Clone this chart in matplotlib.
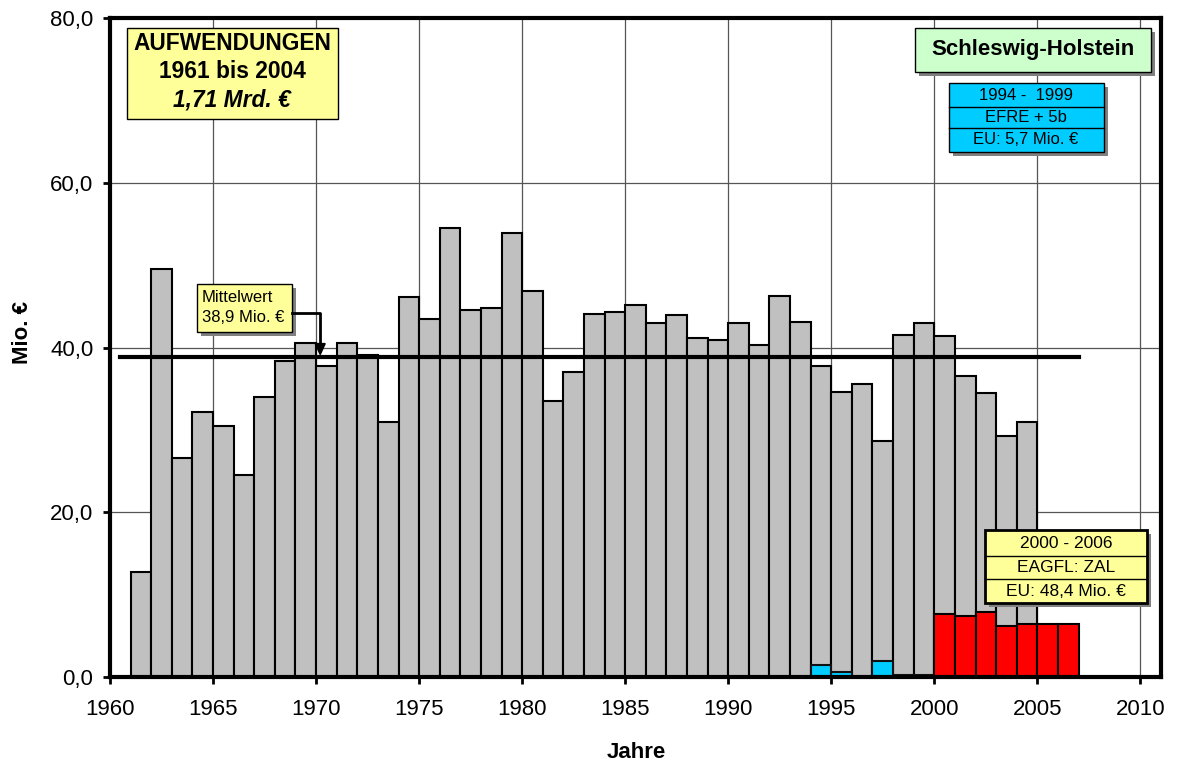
import matplotlib
matplotlib.use("Agg")
import matplotlib.pyplot as plt
from matplotlib.patches import Rectangle, Polygon

plt.rcParams['font.family'] = ['Liberation Sans', 'DejaVu Sans']

# Annual expenditure (Mio. €), 1961-2004
years = list(range(1961, 2005))
total = [12.8, 49.5, 26.6, 32.2, 30.5, 24.5, 34.0, 38.4, 40.5, 37.7,
         40.6, 39.1, 30.9, 46.1, 43.4, 54.5, 44.5, 44.8, 53.9, 46.9,
         33.5, 37.0, 44.1, 44.3, 45.1, 43.0, 43.9, 41.2, 40.9, 43.0,
         40.3, 46.3, 43.1, 37.7, 34.6, 35.6, 28.6, 41.5, 43.0, 41.4,
         36.6, 34.5, 29.2, 30.9]

# EU share 1994-1999 (EFRE + 5b)
efre_years = [1994, 1995, 1996, 1997, 1998, 1999]
efre = [1.4, 0.6, 0.0, 1.9, 0.2, 0.2]

# EU share 2000-2006 (EAGFL: ZAL)
eagfl_years = [2000, 2001, 2002, 2003, 2004, 2005, 2006]
eagfl = [7.7, 7.35, 7.85, 6.2, 6.45, 6.45, 6.4]

mean_value = 38.9
x_ticks = list(range(1960, 2011, 5))
y_ticks = [0, 20, 40, 60, 80]

W, H = 1183, 762
fig = plt.figure(figsize=(W / 100, H / 100), dpi=100)
fig.patch.set_facecolor('white')

left, right, top, bottom = 110, 1161, 18, 677
ax = fig.add_axes([left / W, 1 - bottom / H, (right - left) / W, (bottom - top) / H])
ax.set_xlim(1960, 2011)
ax.set_ylim(0, 80)

ax.set_axisbelow(True)
for xv in x_ticks[1:]:
    ax.axvline(xv, color='#555555', lw=0.9, zorder=1)
for yv in y_ticks[1:-1]:
    ax.axhline(yv, color='#555555', lw=0.9, zorder=1)

ax.bar(years, total, width=1, align='edge', color='#C0C0C0',
       edgecolor='black', linewidth=1.5, zorder=2)
ax.bar(efre_years, efre, width=1, align='edge', color='#00CCFF',
       edgecolor='#111111', linewidth=1.5, zorder=3)
ax.bar(eagfl_years, eagfl, width=1, align='edge', color='#FF0000',
       edgecolor='black', linewidth=1.5, zorder=3)

ax.plot([1960.5, 2007], [mean_value, mean_value], color='black', lw=3, zorder=4)

ax.set_xticks(x_ticks)
ax.set_xticklabels([str(v) for v in x_ticks])
ax.set_yticks(y_ticks)
ax.set_yticklabels([f"{v:.1f}".replace('.', ',') for v in y_ticks])
ax.tick_params(direction='out', length=5, width=2, labelsize=16)
ax.tick_params(axis='x', pad=11)
ax.tick_params(axis='y', pad=7)
for s in ax.spines.values():
    s.set_linewidth(3)
    s.set_zorder(6)

fig.text(636 / W, 1 - 752 / H, 'Jahre', ha='center', va='center',
         fontsize=16, fontweight='bold')
fig.text(22 / W, 1 - 333 / H, 'Mio. €', ha='center', va='center',
         rotation=90, fontsize=16, fontweight='bold')

# Overlay in pixel coordinates (origin top-left) for annotation boxes
ov = fig.add_axes([0, 0, 1, 1], zorder=10)
ov.set_xlim(0, W)
ov.set_ylim(H, 0)
ov.axis('off')


def box(x0, y0, x1, y1, fc, lw=1.0, shadow=True):
    if shadow:
        ov.add_patch(Rectangle((x0 + 4, y0 + 4), x1 - x0, y1 - y0,
                               fc='#808080', ec='none', zorder=1))
    ov.add_patch(Rectangle((x0, y0), x1 - x0, y1 - y0, fc=fc,
                           ec='black', lw=lw, zorder=2))


# Title box
box(127, 28, 338, 119, '#FFFF99', shadow=False)
ov.text(232, 43, 'AUFWENDUNGEN', ha='center', va='center', fontsize=16.4,
        fontweight='bold', zorder=3)
ov.text(232, 72, '1961 bis 2004', ha='center', va='center', fontsize=16.4,
        fontweight='bold', zorder=3)
ov.text(232, 100, '1,71 Mrd. €', ha='center', va='center', fontsize=16.4,
        fontweight='bold', style='italic', zorder=3)

# Region box
box(915, 28, 1151, 72, '#CCFFCC')
ov.text(1033, 50, 'Schleswig-Holstein', ha='center', va='center',
        fontsize=16, fontweight='bold', zorder=3)

# EFRE period table
box(949, 83, 1104, 152, '#00CCFF')
for yy in (107, 128):
    ov.plot([949, 1104], [yy, yy], color='black', lw=1, zorder=3)
for yy, t in zip((96, 118, 140), ('1994 -  1999', 'EFRE + 5b', 'EU: 5,7 Mio. €')):
    ov.text(1026, yy, t, ha='center', va='center', fontsize=12, zorder=3)

# EAGFL period table
box(985, 530, 1147, 603, '#FFFF99', lw=2)
for yy in (556, 579):
    ov.plot([985, 1147], [yy, yy], color='black', lw=1, zorder=3)
for yy, t in zip((544, 568, 591), ('2000 - 2006', 'EAGFL: ZAL', 'EU: 48,4 Mio. €')):
    ov.text(1066, yy, t, ha='center', va='center', fontsize=12.5, zorder=3)

# Mean value callout
box(197, 284, 292, 332, '#FFFF99')
ov.text(202, 297, 'Mittelwert', ha='left', va='center', fontsize=12, zorder=3)
ov.text(202, 318, f"{mean_value:.1f}".replace('.', ',') + ' Mio. €',
        ha='left', va='center', fontsize=12, zorder=3)

tip = ax.transData.transform((1970.2, mean_value))
tx, ty = tip[0], H - tip[1] - 2
ov.plot([292, tx, tx], [313, 313, ty - 10], color='black', lw=2, zorder=3)
ov.add_patch(Polygon([(tx - 5, ty - 11), (tx + 5, ty - 11), (tx, ty)],
                     closed=True, fc='black', ec='black', zorder=3))

fig.savefig('out.png', dpi=100)
